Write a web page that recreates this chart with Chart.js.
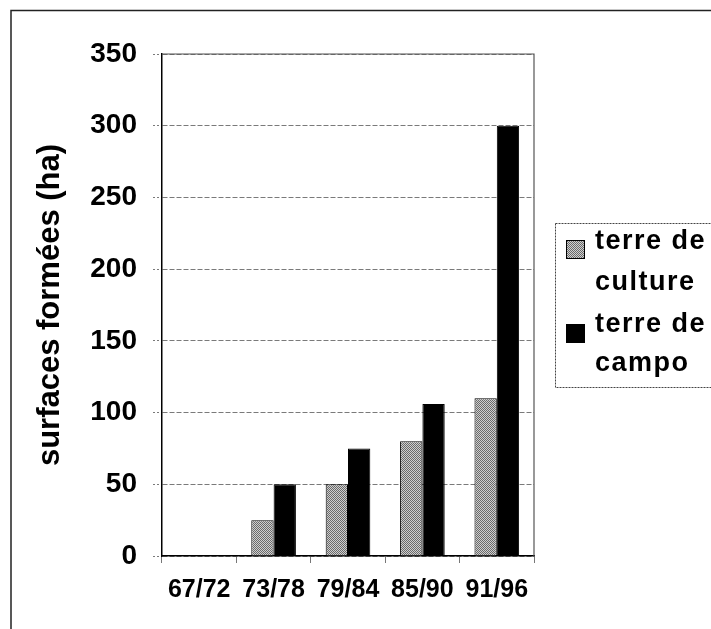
<!DOCTYPE html>
<html>
<head>
<meta charset="utf-8">
<script src="https://cdn.jsdelivr.net/npm/chart.js@4"></script>
<style>
  html, body { margin: 0; background: #fff; }
</style>
</head>
<body>
<canvas id="myChart" width="711" height="629"></canvas>
<script>
// surfaces formées par période, en hectares
const periods = ["67/72", "73/78", "79/84", "85/90", "91/96"];
const cultureValues = [0, 25, 50, 80, 110];
const campoValues = [0, 50, 75, 106, 300];
const yTickValues = [0, 50, 100, 150, 200, 250, 300, 350];
const seriesLabels = [["terre de", "culture"], ["terre de", "campo"]];

const FONT = '"Liberation Sans", Arial, sans-serif';

// grey stippled fill for the "culture" bars
function stipple() {
  const c = document.createElement("canvas");
  c.width = 2; c.height = 2;
  const g = c.getContext("2d");
  g.fillStyle = "#cfcfcf";
  g.fillRect(0, 0, 2, 2);
  g.fillStyle = "#6a6a6a";
  g.fillRect(0, 0, 1, 1);
  g.fillRect(1, 1, 1, 1);
  return g.createPattern(c, "repeat");
}
const greyFill = stipple();

// outer frame and plot-area box
const framePlugin = {
  id: "frame",
  beforeDraw(chart) {
    const ctx = chart.ctx;
    ctx.save();
    ctx.fillStyle = "#fff";
    ctx.fillRect(0, 0, chart.width, chart.height);
    ctx.strokeStyle = "#222";
    ctx.lineWidth = 1.5;
    ctx.beginPath();
    ctx.moveTo(11, chart.height + 2);
    ctx.lineTo(11, 10.5);
    ctx.lineTo(chart.width + 2, 10.5);
    ctx.stroke();
    ctx.restore();
  },
  afterDraw(chart) {
    const a = chart.chartArea;
    const ctx = chart.ctx;
    ctx.save();
    ctx.strokeStyle = "#555";
    ctx.lineWidth = 1.2;
    ctx.beginPath();
    ctx.moveTo(a.left, a.top);
    ctx.lineTo(a.right, a.top);
    ctx.lineTo(a.right, a.bottom);
    ctx.stroke();
    ctx.restore();
  }
};

// boxed legend on the right, two lines per entry
const sideLegend = {
  id: "sideLegend",
  afterDraw(chart) {
    const ctx = chart.ctx;
    ctx.save();
    ctx.strokeStyle = "#444";
    ctx.lineWidth = 1;
    ctx.setLineDash([2, 1]);
    ctx.strokeRect(555.5, 223.5, 170, 164);
    ctx.setLineDash([]);

    const fills = [greyFill, "#000"];
    const swatchY = [240, 324];
    const lineY = [[249, 290], [332, 371]];
    ctx.font = "bold 27px " + FONT;
    ctx.letterSpacing = "1.5px";
    ctx.textBaseline = "alphabetic";
    seriesLabels.forEach((lines, i) => {
      ctx.fillStyle = fills[i];
      ctx.fillRect(566, swatchY[i], 19, 19);
      ctx.strokeStyle = "#000";
      ctx.strokeRect(566.5, swatchY[i] + 0.5, 18, 18);
      ctx.fillStyle = "#000";
      lines.forEach((t, j) => ctx.fillText(t, 595, lineY[i][j]));
    });
    ctx.restore();
  }
};

new Chart("myChart", {
  type: "bar",
  data: {
    labels: periods,
    datasets: [
      {
        label: seriesLabels[0].join(" "),
        data: cultureValues,
        backgroundColor: greyFill,
        borderColor: "#000",
        borderWidth: 1
      },
      {
        label: seriesLabels[1].join(" "),
        data: campoValues,
        backgroundColor: "#000",
        borderColor: "#000",
        borderWidth: 1
      }
    ]
  },
  options: {
    responsive: false,
    animation: false,
    layout: { padding: { top: 54, right: 177, bottom: 0, left: 0 } },
    datasets: { bar: { categoryPercentage: 0.6, barPercentage: 1.0 } },
    plugins: {
      legend: { display: false },
      tooltip: { enabled: false }
    },
    scales: {
      x: {
        afterFit(s) { s.height = 73; },
        grid: {
          offset: true,
          drawOnChartArea: false,
          color: "#777",
          tickLength: 7
        },
        border: { color: "#000", width: 1.5 },
        ticks: {
          color: "#000",
          padding: 12,
          font: { family: FONT, size: 25, weight: "bold" }
        }
      },
      y: {
        min: 0,
        max: 350,
        afterFit(s) { s.width = 162; },
        afterBuildTicks(s) { s.ticks = yTickValues.map(v => ({ value: v })); },
        grid: {
          color: "#7a7a7a",
          lineWidth: 1,
          tickLength: 9,
          tickBorderDash: [2, 2]
        },
        // dash here applies to the horizontal grid lines
        border: { color: "#000", width: 1.5, dash: [5, 2] },
        ticks: {
          color: "#000",
          padding: 16,
          font: { family: FONT, size: 28, weight: "bold" }
        },
        title: {
          display: true,
          text: "surfaces formées (ha)",
          color: "#000",
          padding: { top: 32, bottom: 0 },
          font: { family: FONT, size: 31, weight: "bold" }
        }
      }
    }
  },
  plugins: [framePlugin, sideLegend]
});
</script>
</body>
</html>
